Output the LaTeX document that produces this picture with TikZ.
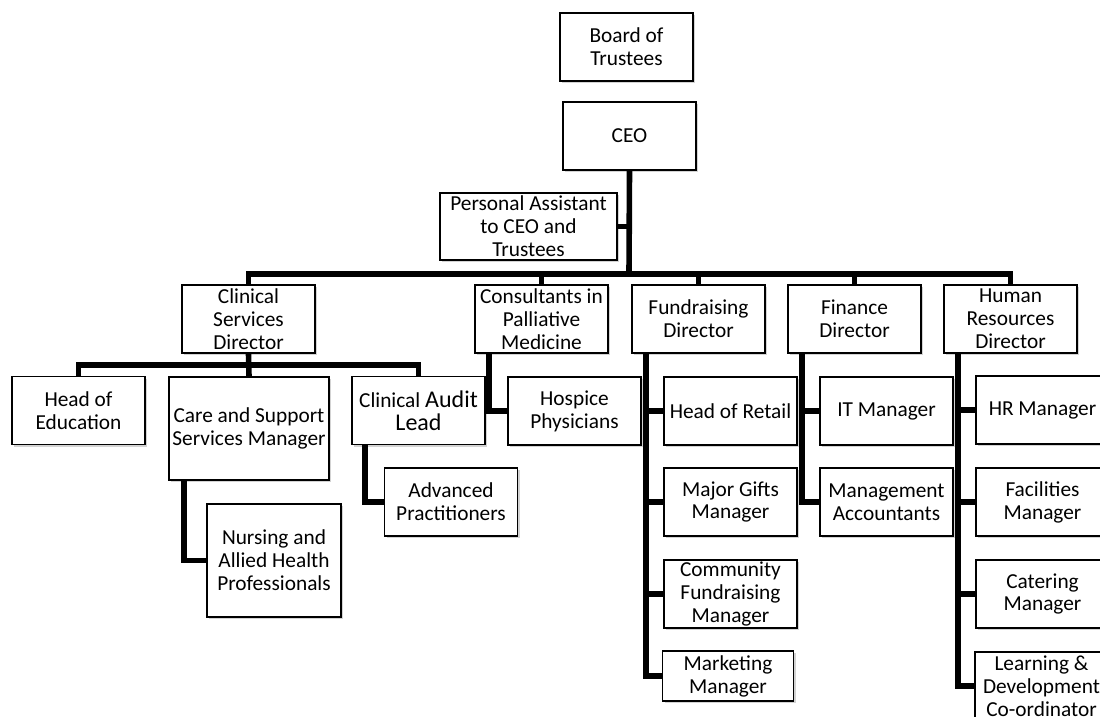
\documentclass[tikz,border=0pt]{standalone}
\usepackage{fontspec}
\setmainfont{Carlito}
\usetikzlibrary{shadows}
\newcommand{\leadsize}{\fontsize{18}{17.2}\selectfont}

\begin{document}
\begin{tikzpicture}[x=0.75pt,y=-0.75pt,
        post/.style={draw,line width=1.2pt,fill=white,align=center,inner sep=1pt,
            minimum width=99.75pt,minimum height=51pt,
            font=\fontsize{16}{17.2}\selectfont,
            drop shadow={shadow xshift=1.5pt,shadow yshift=-1.5pt,opacity=0.35}},
        link/.style={line width=4.2pt}]
        \useasboundingbox (0,0) rectangle (1100,717);

        % top of the chart
        \node[post] (board) at (626.5,47) {Board of\\Trustees};
        \node[post] (ceo) at (629.5,136) {CEO};
        \node[post,minimum width=132.75pt,minimum height=50.25pt] (pa) at (528.5,226.5) {Personal Assistant\\to CEO and\\Trustees};

        % directors
        \node[post] (csd) at (248.5,319) {Clinical\\Services\\Director};
        \node[post] (cpm) at (541.5,319) {Consultants in\\Palliative\\Medicine};
        \node[post] (fd) at (698.5,319) {Fundraising\\Director};
        \node[post] (find) at (854.5,319) {Finance\\Director};
        \node[post] (hrd) at (1010.5,319) {Human\\Resources\\Director};

        % clinical side
        \node[post] (hoe) at (78.5,410.5) {Head of\\Education};
        \node[post,minimum width=120pt,minimum height=77.25pt] (cssm) at (249,428.5) {Care and Support\\Services Manager};
        \node[post] (cal) at (418.5,410.5) {Clinical {\leadsize Audit}\\{\leadsize Lead}};
        \node[post,minimum width=100.5pt,minimum height=84.75pt] (nahp) at (274,560.5) {Nursing and\\Allied Health\\Professionals};
        \node[post] (ap) at (451,502) {Advanced\\Practitioners};
        \node[post] (hp) at (574.5,411) {Hospice\\Physicians};

        % fundraising
        \node[post] (hor) at (730.5,411) {Head of Retail};
        \node[post] (mgm) at (730.5,502) {Major Gifts\\Manager};
        \node[post] (cfm) at (730.5,594) {Community\\Fundraising\\Manager};
        \node[post,minimum width=98.25pt,minimum height=37.5pt] (mm) at (728,676) {Marketing\\Manager};

        % finance
        \node[post] (itm) at (886.5,411) {IT Manager};
        \node[post] (ma) at (886.5,502) {Management\\Accountants};

        % human resources
        \node[post] (hrm) at (1042.5,410) {HR Manager};
        \node[post] (fm) at (1042.5,502) {Facilities\\Manager};
        \node[post] (cm) at (1042.5,594) {Catering\\Manager};
        \node[post] (ldc) at (1041.5,686) {Learning \&\\Development\\Co-ordinator};

        % lines
        \coordinate (topbar) at (629,274);
        \draw[link] (ceo.south) -- (topbar);
        \draw[link] (pa.east) -- (pa.east -| topbar);
        \draw[link] (csd.north) |- (topbar) -| (hrd.north);
        \draw[link] (cpm.north) -- (cpm.north |- topbar);
        \draw[link] (fd.north) -- (fd.north |- topbar);
        \draw[link] (find.north) -- (find.north |- topbar);

        \coordinate (csbar) at (248.5,365);
        \draw[link] (csd.south) -- (cssm.north);
        \draw[link] (hoe.north) |- (csbar) -| (cal.north);
        \draw[link] ([xshift=12pt]cssm.south west) |- (nahp.west);
        \draw[link] ([xshift=10.5pt]cal.south west) |- (ap.west);
        \draw[link] ([xshift=11pt]cpm.south west) |- (hp.west);

        \foreach \n in {hor,mgm,cfm,mm}
            \draw[link] ([xshift=11pt]fd.south west) |- (\n.west);
        \foreach \n in {itm,ma}
            \draw[link] ([xshift=11pt]find.south west) |- (\n.west);
        \foreach \n in {hrm,fm,cm,ldc}
            \draw[link] ([xshift=11pt]hrd.south west) |- (\n.west);
    \end{tikzpicture}
\end{document}
